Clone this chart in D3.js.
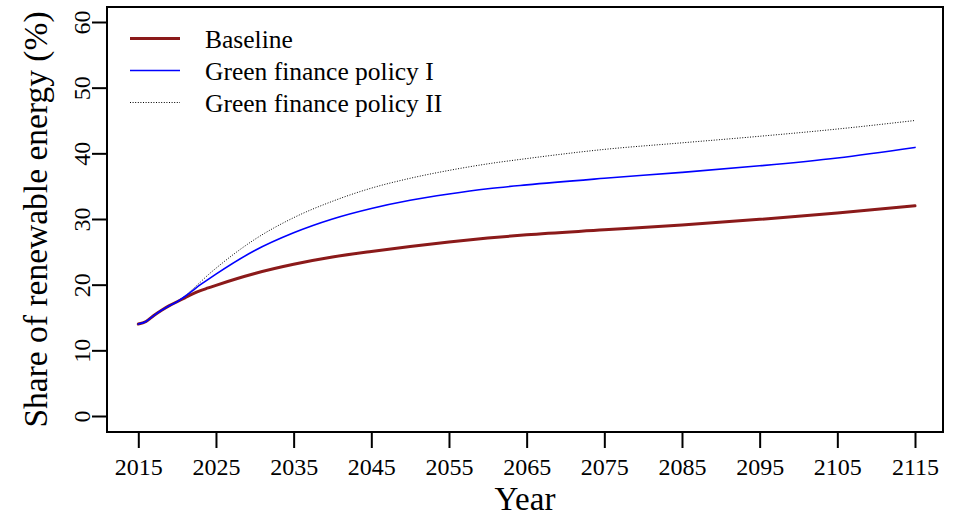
<!DOCTYPE html>
<html>
<head>
<meta charset="utf-8">
<script src="https://cdn.jsdelivr.net/npm/d3@7"></script>
<style>
  html, body { margin: 0; padding: 0; background: #fff; }
  svg { display: block; }
  text { font-family: "Liberation Serif", "DejaVu Serif", serif; fill: #000; }
</style>
</head>
<body>
<svg id="chart" width="962" height="518"></svg>
<script>
// ---- data ----
const years    = [2015, 2016, 2017, 2018, 2019, 2020, 2021, 2022, 2023, 2024, 2025, 2030, 2035, 2040, 2045, 2050, 2055, 2060, 2065, 2075, 2085, 2095, 2105, 2115];
const baseline = [14.0, 14.4, 15.3, 16.1, 16.8, 17.4, 18.0, 18.6, 19.1, 19.5, 19.9, 21.7, 23.1, 24.2, 25.05, 25.8, 26.5, 27.1, 27.6, 28.35, 29.1, 29.95, 30.9, 32.0];
const policyI  = [14.0, 14.4, 15.3, 16.1, 16.8, 17.4, 18.2, 19.1, 20.0, 20.8, 21.6, 25.2, 27.9, 30.0, 31.6, 32.85, 33.8, 34.6, 35.2, 36.2, 37.1, 38.1, 39.3, 40.9];
const policyII = [14.0, 14.4, 15.3, 16.1, 16.8, 17.4, 18.3, 19.3, 20.4, 21.5, 22.5, 26.9, 30.2, 32.7, 34.7, 36.2, 37.4, 38.4, 39.2, 40.6, 41.6, 42.6, 43.7, 45.0];
const xTicks = [2015, 2025, 2035, 2045, 2055, 2065, 2075, 2085, 2095, 2105, 2115];
const yTicks = [0, 10, 20, 30, 40, 50, 60];
const seriesNames = ["Baseline", "Green finance policy I", "Green finance policy II"];

const series = [
  { name: seriesNames[0], values: baseline, color: "#8B1A1A", width: 3,   dash: null },
  { name: seriesNames[1], values: policyI,  color: "#0000FF", width: 1.6, dash: null },
  { name: seriesNames[2], values: policyII, color: "#000000", width: 1,   dash: "1,1.6" }
];

// ---- layout ----
const svg = d3.select("#chart");
const box = { left: 107, right: 943, top: 7, bottom: 432 };

const x = d3.scaleLinear().domain([2015, 2115]).range([138.3, 915]);
const y = d3.scaleLinear().domain([0, 60]).range([416, 22]);

// plot box
svg.append("rect")
  .attr("x", box.left).attr("y", box.top)
  .attr("width", box.right - box.left).attr("height", box.bottom - box.top)
  .attr("fill", "none").attr("stroke", "#000").attr("stroke-width", 2);

// x axis
const xAxis = svg.append("g").attr("transform", `translate(0,${box.bottom})`)
  .call(d3.axisBottom(x).tickValues(xTicks).tickFormat(d3.format("d")).tickSize(16).tickPadding(10));
xAxis.select(".domain").remove();
xAxis.selectAll(".tick line").attr("stroke", "#000").attr("stroke-width", 2);
xAxis.selectAll(".tick text").attr("font-size", 24).attr("font-family", "Liberation Serif");

// y axis
const yAxis = svg.append("g").attr("transform", `translate(${box.left},0)`)
  .call(d3.axisLeft(y).tickValues(yTicks).tickSize(15).tickPadding(0));
yAxis.select(".domain").remove();
yAxis.selectAll(".tick line").attr("stroke", "#000").attr("stroke-width", 2);
yAxis.selectAll(".tick text")
  .attr("font-size", 24).attr("font-family", "Liberation Serif")
  .attr("text-anchor", "middle").attr("dy", 0)
  .attr("x", 0).attr("y", 0)
  .attr("transform", "translate(-17,0) rotate(-90)");

// axis titles
svg.append("text")
  .attr("x", (box.left + box.right) / 2).attr("y", 510)
  .attr("text-anchor", "middle").attr("font-size", 33)
  .text("Year");
svg.append("text")
  .attr("transform", `translate(47,${(box.top + box.bottom) / 2}) rotate(-90)`)
  .attr("text-anchor", "middle").attr("font-size", 33.5)
  .text("Share of renewable energy (%)");

// lines
const line = d3.line()
  .x((d, i) => x(years[i]))
  .y(d => y(d))
  .curve(d3.curveMonotoneX);

const drawOrder = [0, 2, 1];
drawOrder.forEach(k => {
  const s = series[k];
  svg.append("path")
    .attr("d", line(s.values))
    .attr("fill", "none")
    .attr("stroke", s.color)
    .attr("stroke-width", s.width)
    .attr("stroke-dasharray", s.dash)
    .attr("stroke-linejoin", "round")
    .attr("stroke-linecap", s.dash ? "butt" : "round");
});

// legend
const legendY = [38.5, 70.5, 102.5];
series.forEach((s, i) => {
  svg.append("line")
    .attr("x1", 130).attr("x2", 180)
    .attr("y1", legendY[i]).attr("y2", legendY[i])
    .attr("stroke", s.color).attr("stroke-width", s.width)
    .attr("stroke-dasharray", s.dash);
  svg.append("text")
    .attr("x", 205).attr("y", legendY[i] + 9)
    .attr("font-size", 25.5)
    .text(s.name);
});
</script>
</body>
</html>
